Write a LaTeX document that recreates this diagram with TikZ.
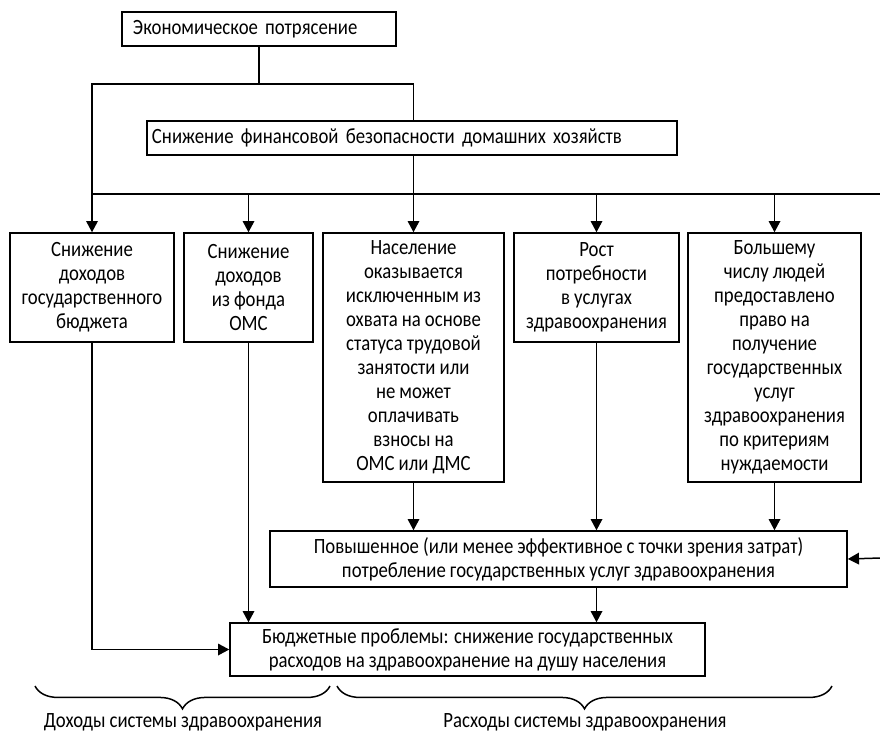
\documentclass[tikz,border=0pt]{standalone}
\usepackage{fontspec}
\setmainfont{Carlito}[FakeStretch=0.86]
\usetikzlibrary{arrows.meta,decorations.pathreplacing}
\newcommand{\tightspace}{\spaceskip=2.3pt plus 1pt minus 0.5pt\relax}

\begin{document}
\begin{tikzpicture}[
  x=0.2mm, y=-0.2mm,
  font=\fontsize{12.4}{13.66}\selectfont\tightspace,
  box/.style={draw, line width=0.85pt, align=center, inner sep=0pt},
  line/.style={line width=0.85pt},
  arrow/.style={-{Triangle[width=6.6pt,length=6.4pt]}, line width=0.85pt},
  brace/.style={decorate, decoration={brace, mirror, amplitude=13pt}, line width=0.85pt}
]
\useasboundingbox (0,0) rectangle (880,732);

\node[box, text width=50.4mm, align=left, inner xsep=2.2mm, minimum height=6.8mm] (shock) at (259,29)
  {Экономическое потрясение};
\node[box, text width=104mm, align=left, inner xsep=1mm, minimum height=6.8mm] (fin) at (412,138)
  {Снижение финансовой безопасности домашних хозяйств};

\node[box, minimum width=32.8mm, minimum height=21.8mm] (b1) at (92,287.5)
  {Снижение\\доходов\\государственного\\бюджета};
\node[box, minimum width=25.8mm, minimum height=21.8mm] (b2) at (248.5,287.5)
  {Снижение\\доходов\\из фонда\\ОМС};
\node[box, minimum width=36.2mm, minimum height=49.8mm] (b3) at (413.5,357.5)
  {Население\\оказывается\\исключенным из\\охвата на основе\\статуса трудовой\\занятости или\\не может\\оплачивать\\взносы на\\ОМС или ДМС};
\node[box, minimum width=33mm, minimum height=21.8mm] (b4) at (596.5,287.5)
  {Рост\\потребности\\в услугах\\здравоохранения};
\node[box, minimum width=34.6mm, minimum height=49.8mm] (b5) at (774.5,357.5)
  {Большему\\числу людей\\предоставлено\\право на\\получение\\государственных\\услуг\\здравоохранения\\по критериям\\нуждаемости};

\node[box, minimum width=115.4mm, minimum height=11.2mm] (consume) at (558.5,559)
  {Повышенное (или менее эффективное с точки зрения затрат)\\потребление государственных услуг здравоохранения};
\node[box, minimum width=95mm, minimum height=10.6mm] (budget) at (467.5,649.5)
  {Бюджетные проблемы: снижение государственных\\расходов на здравоохранение на душу населения};

\coordinate (split) at (259,84);
\coordinate (bus) at (880,194);
\coordinate (rin) at (880,558);

% from the shock down to the first row
\draw[line] (shock.south) -- (split);
\draw[line] (split) -| (b3.north |- fin.north);
\draw[arrow] (split) -| (b1.north);
\draw[line] (b1.north |- bus) -- (bus);
\draw[arrow] (b3.north |- fin.south) -- (b3.north);
\draw[arrow] (b2.north |- bus) -- (b2.north);
\draw[arrow] (b4.north |- bus) -- (b4.north);
\draw[arrow] (b5.north |- bus) -- (b5.north);

% from the first row down to the budget
\draw[arrow] (b1.south) |- (budget.west);
\draw[arrow] (b2.south) -- (b2.south |- budget.north);
\draw[arrow] (b3.south) -- (b3.south |- consume.north);
\draw[arrow] (b4.south) -- (b4.south |- consume.north);
\draw[arrow] (b5.south) -- (b5.south |- consume.north);
\draw[arrow] (b4.south |- consume.south) -- (b4.south |- budget.north);
\draw[arrow] (rin) -- (consume.east);

% braces
\draw[brace] (35,686) -- (330,686);
\draw[brace] (337,686) -- (832,686);
\node (revenue) at (183,722) {Доходы системы здравоохранения};
\node (spending) at (585,722) {Расходы системы здравоохранения};

\end{tikzpicture}
\end{document}
